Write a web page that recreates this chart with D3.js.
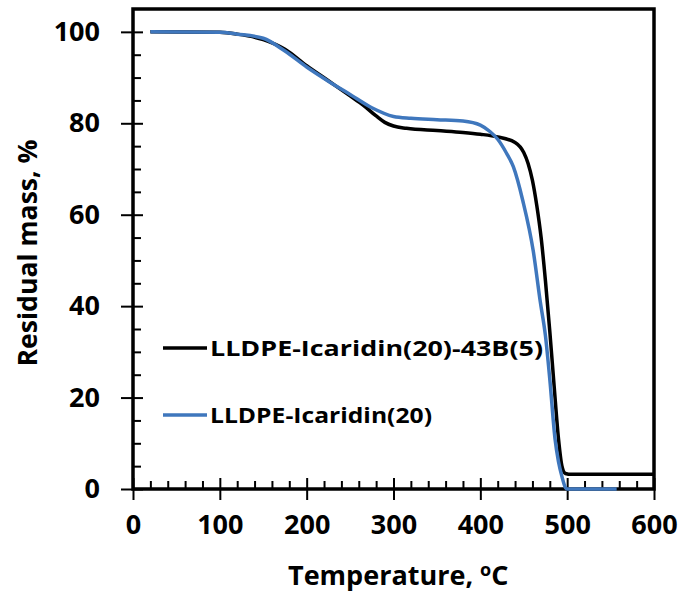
<!DOCTYPE html>
<html>
<head>
<meta charset="utf-8">
<script src="https://cdn.jsdelivr.net/npm/d3@7"></script>
<style>
  body { margin: 0; background: #fff; }
  text { font-family: "Open Sans", "Liberation Sans", sans-serif; font-weight: bold; fill: #000; }
</style>
</head>
<body>
<div id="vis-container"></div>
<script>
// width and height
var w = 681;
var h = 592;

// chart values
var tempBlack = [20, 100, 120, 150, 175, 200, 225, 250, 265, 280, 290, 300, 315, 350, 380, 400, 420, 440, 450, 455, 460, 465, 470, 475, 480, 485, 490, 494, 498, 505, 600];
var massBlack = [100, 99.9, 99.5, 98.3, 96.2, 92.6, 89.3, 86.0, 84.0, 81.6, 80.2, 79.4, 78.9, 78.4, 78.0, 77.6, 77.0, 75.8, 73.6, 71.2, 67.5, 62.0, 55.0, 45.5, 34.5, 22.5, 11.0, 5.0, 3.4, 3.2, 3.2];

var tempBlue = [20, 100, 120, 150, 175, 200, 225, 250, 275, 300, 320, 350, 380, 400, 411, 420, 430, 438, 449, 461, 469, 475, 480, 486, 490, 494, 498, 500, 557];
var massBlue = [100, 99.9, 99.5, 98.6, 95.8, 92.3, 89.2, 86.3, 83.4, 81.5, 81.1, 80.8, 80.5, 79.6, 78.2, 76.5, 73.5, 70.5, 63.0, 52.0, 41.0, 33.5, 24.0, 11.0, 6.0, 2.7, 0.3, 0, 0];

var seriesNames = ["LLDPE-Icaridin(20)-43B(5)", "LLDPE-Icaridin(20)"];
var seriesColors = ["#000000", "#3f77bd"];

var xTicks = [0, 100, 200, 300, 400, 500, 600];
var yTicks = [0, 20, 40, 60, 80, 100];

var xScale = d3.scaleLinear().domain([0, 600]).range([133, 654]);
var yScale = d3.scaleLinear().domain([0, 105]).range([489, 9]);

var svg = d3.select("#vis-container")
    .append("svg")
    .attr("width", w)
    .attr("height", h);

// minor ticks (inside)
var xMinor = d3.range(0, 601, 20).filter(function (v) { return v % 100 != 0; });
var yMinor = d3.range(0, 101, 5).filter(function (v) { return v % 20 != 0; });

svg.append("g")
    .attr("transform", "translate(0,489)")
    .call(d3.axisBottom(xScale).tickValues(xMinor).tickSize(-8).tickFormat(""))
    .call(function (g) { g.select(".domain").remove(); g.selectAll("line").attr("stroke-width", 2); });

svg.append("g")
    .attr("transform", "translate(133,0)")
    .call(d3.axisLeft(yScale).tickValues(yMinor).tickSize(-8).tickFormat(""))
    .call(function (g) { g.select(".domain").remove(); g.selectAll("line").attr("stroke-width", 2); });

// major ticks: inside part
svg.append("g")
    .attr("transform", "translate(0,489)")
    .call(d3.axisBottom(xScale).tickValues(xTicks).tickSize(-11).tickFormat(""))
    .call(function (g) { g.select(".domain").remove(); g.selectAll("line").attr("stroke-width", 2); });

svg.append("g")
    .attr("transform", "translate(133,0)")
    .call(d3.axisLeft(yScale).tickValues(yTicks).tickSize(-10).tickFormat(""))
    .call(function (g) { g.select(".domain").remove(); g.selectAll("line").attr("stroke-width", 2); });

// major ticks: outside part with labels
svg.append("g")
    .attr("class", "x axis")
    .attr("transform", "translate(0,489)")
    .call(d3.axisBottom(xScale).tickValues(xTicks).tickSize(11).tickPadding(15))
    .call(function (g) {
        g.select(".domain").remove();
        g.selectAll("line").attr("stroke-width", 2);
        g.selectAll("text").attr("font-size", 27).attr("font-family", null);
    });

svg.append("g")
    .attr("class", "y axis")
    .attr("transform", "translate(133,0)")
    .call(d3.axisLeft(yScale).tickValues(yTicks).tickSize(12).tickPadding(21))
    .call(function (g) {
        g.select(".domain").remove();
        g.selectAll("line").attr("stroke-width", 2);
        g.selectAll("text").attr("font-size", 27).attr("font-family", null);
    });

// frame
svg.append("rect")
    .attr("x", xScale(0))
    .attr("y", yScale(105))
    .attr("width", xScale(600) - xScale(0))
    .attr("height", yScale(0) - yScale(105))
    .attr("fill", "none")
    .attr("stroke", "#000")
    .attr("stroke-width", 3.5);

// lines
var line = d3.line()
    .x(function (d) { return xScale(d[0]); })
    .y(function (d) { return yScale(d[1]); })
    .curve(d3.curveMonotoneX);

var black = tempBlack.map(function (t, i) { return [t, massBlack[i]]; });
var blue = tempBlue.map(function (t, i) { return [t, massBlue[i]]; });

svg.append("path")
    .datum(black)
    .attr("d", line)
    .attr("fill", "none")
    .attr("stroke", seriesColors[0])
    .attr("stroke-width", 3.5);

svg.append("path")
    .datum(blue)
    .attr("d", line)
    .attr("fill", "none")
    .attr("stroke", seriesColors[1])
    .attr("stroke-width", 3.5);

// legend
var legend = svg.selectAll(".legend")
    .data(seriesNames)
    .enter().append("g")
    .attr("class", "legend")
    .attr("transform", function (d, i) { return "translate(0," + (348 + i * 67) + ")"; });

legend.append("line")
    .attr("x1", 163)
    .attr("x2", 207)
    .attr("stroke", function (d, i) { return seriesColors[i]; })
    .attr("stroke-width", 3.5);

legend.append("text")
    .attr("x", 210)
    .attr("y", 8)
    .attr("font-size", 21)
    .attr("textLength", function (d, i) { return i == 0 ? 333 : 222; })
    .attr("lengthAdjust", "spacingAndGlyphs")
    .text(function (d) { return d; });

// axis titles
var xt = svg.append("text")
    .attr("x", 288)
    .attr("y", 585)
    .attr("font-size", 27);
xt.append("tspan").text("Temperature, ");
xt.append("tspan").attr("dy", -9).attr("font-size", 18).text("o");
xt.append("tspan").attr("dy", 9).text("C");

svg.append("text")
    .attr("transform", "translate(37,253) rotate(-90)")
    .attr("text-anchor", "middle")
    .attr("font-size", 27)
    .attr("textLength", 227)
    .attr("lengthAdjust", "spacingAndGlyphs")
    .text("Residual mass, %");
</script>
</body>
</html>
